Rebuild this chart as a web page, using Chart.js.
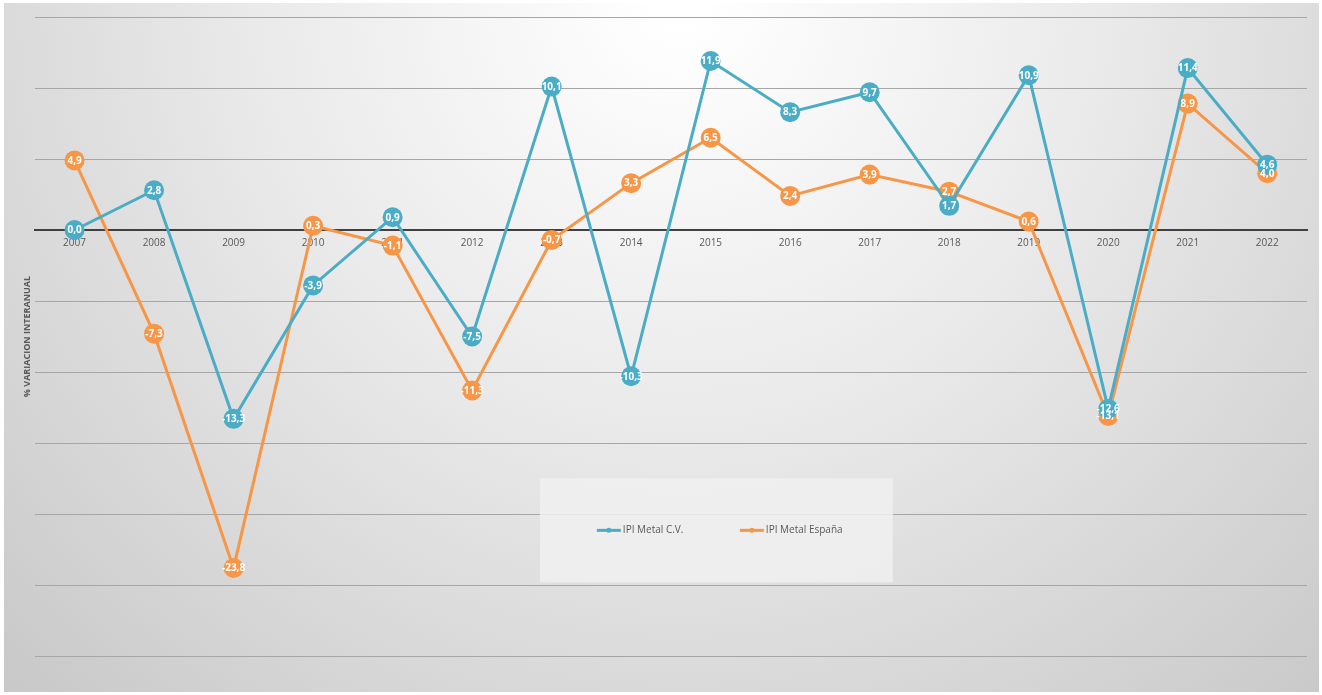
<!DOCTYPE html>
<html>
<head>
<meta charset="utf-8">
<script src="https://cdn.jsdelivr.net/npm/chart.js@4.4.0/dist/chart.umd.min.js"></script>
<style>
  html,body{margin:0;padding:0;background:#fff;}
  #wrap{width:1322px;height:695px;position:relative;}
</style>
</head>
<body>
<div id="wrap"><canvas id="myChart" width="1322" height="695"></canvas></div>
<script>
// years on the x axis
const years=["2007","2008","2009","2010","2011","2012","2013","2014","2015","2016","2017","2018","2019","2020","2021","2022"];
// % variation
const ipiCV=[0.0,2.8,-13.3,-3.9,0.9,-7.5,10.1,-10.3,11.9,8.3,9.7,1.7,10.9,-12.6,11.4,4.6];
const ipiEsp=[4.9,-7.3,-23.8,0.3,-1.1,-11.3,-0.7,3.3,6.5,2.4,3.9,2.7,0.6,-13.1,8.9,4.0];
const seriesNames=["IPI Metal C.V.","IPI Metal España"];
const blue="#4bacc6";
const orange="#f79646";

const ctx=document.getElementById("myChart").getContext("2d");

// grey radial backdrop like the excel chart area
const backdrop={
  id:"backdrop",
  beforeDraw(chart){
    const c=chart.ctx;
    c.save();
    c.fillStyle="#fff";
    c.fillRect(0,0,chart.width,chart.height);
    const g=c.createRadialGradient(680,0,20,680,0,950);
    g.addColorStop(0,"#ffffff");
    g.addColorStop(0.45,"#e9e9e9");
    g.addColorStop(1,"#c9c9c9");
    c.fillStyle=g;
    c.fillRect(4,3,chart.width-7,chart.height-6);
    c.restore();
  }
};

// white values inside the markers
const pointLabels={
  id:"pointLabels",
  afterDatasetsDraw(chart){
    const c=chart.ctx;
    c.save();
    c.font="bold 10px 'Open Sans', sans-serif";
    c.fillStyle="#ffffff";
    c.textAlign="center";
    c.textBaseline="middle";
    chart.data.datasets.forEach((ds,i)=>{
      chart.getDatasetMeta(i).data.forEach((pt,j)=>{
        const txt=ds.data[j].toFixed(1).replace(".",",");
        c.fillText(txt,pt.x,pt.y+0.5);
      });
    });
    c.restore();
  }
};

// legend box sitting inside the plot, lower middle
const boxLegend={
  id:"boxLegend",
  afterDraw(chart){
    const a=chart.chartArea;
    const c=chart.ctx;
    const bx=a.left+(a.right-a.left)*0.397, by=a.top+(a.bottom-a.top)*0.722;
    const bw=353, bh=104;
    c.save();
    c.fillStyle="rgba(240,240,240,0.85)";
    c.fillRect(bx,by,bw,bh);
    c.font="10px 'Open Sans', sans-serif";
    c.textBaseline="middle";
    const cy=by+bh/2;
    const starts=[bx+57,bx+200];
    chart.data.datasets.forEach((ds,i)=>{
      const x=starts[i];
      c.strokeStyle=ds.borderColor;
      c.lineWidth=3;
      c.beginPath();c.moveTo(x,cy);c.lineTo(x+24,cy);c.stroke();
      c.fillStyle=ds.borderColor;
      c.beginPath();c.arc(x+12,cy,2.5,0,Math.PI*2);c.fill();
      c.fillStyle="#595959";
      c.fillText(ds.label,x+26,cy);
    });
    c.restore();
  }
};

const data={
  labels:years,
  datasets:[{
    label:seriesNames[0],
    data:ipiCV,
    borderColor:blue,
    backgroundColor:blue,
    pointBackgroundColor:blue,
    pointBorderColor:blue,
    borderWidth:3,
    pointRadius:10,
    pointBorderWidth:0,
    tension:0
  },{
    label:seriesNames[1],
    data:ipiEsp,
    borderColor:orange,
    backgroundColor:orange,
    pointBackgroundColor:orange,
    pointBorderColor:orange,
    borderWidth:3,
    pointRadius:10,
    pointBorderWidth:0,
    tension:0
  }]
};

const config={
  type:"line",
  data:data,
  plugins:[backdrop,pointLabels,boxLegend],
  options:{
    responsive:false,
    animation:false,
    layout:{padding:{left:21,right:15,top:17,bottom:39}},
    plugins:{
      legend:{display:false},
      tooltip:{enabled:false}
    },
    scales:{
      x:{
        type:"category",
        position:{y:0},
        offset:true,
        grid:{display:false,drawTicks:false},
        border:{display:true,color:"#404040",width:2},
        ticks:{color:"#595959",font:{size:10,family:"'Open Sans', sans-serif"},padding:7,maxRotation:0,autoSkip:false}
      },
      y:{
        min:-30,
        max:15,
        ticks:{display:false,stepSize:5},
        grid:{color:"#a6a6a6",lineWidth:1,drawTicks:false},
        border:{display:false},
        title:{
          display:true,
          text:"% VARIACION INTERANUAL",
          color:"#595959",
          font:{size:9,weight:"bold",family:"'Open Sans', sans-serif"},
          padding:{top:1,bottom:2}
        }
      }
    }
  }
};
const myChart=new Chart(ctx,config);
</script>
</body>
</html>
